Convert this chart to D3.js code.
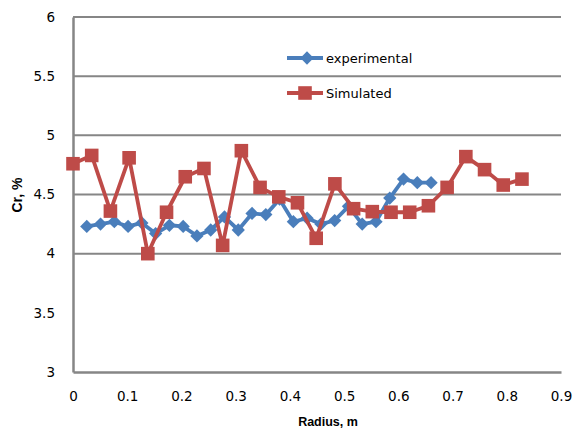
<!DOCTYPE html>
<html><head><meta charset="utf-8">
<script src="https://cdn.jsdelivr.net/npm/d3@7"></script>
<style>
html,body{margin:0;padding:0;background:#fff;}
svg{display:block;}
</style></head>
<body>
<svg id="chart" width="574" height="432"></svg>
<script>
// ---- data ----
const expX = [0.0254,0.0508,0.0762,0.1016,0.127,0.1524,0.1778,0.2032,0.2286,0.254,0.2794,0.3048,0.3302,0.3556,0.381,0.4064,0.4318,0.4572,0.4826,0.508,0.5334,0.5588,0.5842,0.6096,0.635,0.6604];
const expY = [4.23,4.25,4.27,4.23,4.26,4.17,4.24,4.23,4.15,4.20,4.31,4.20,4.34,4.33,4.46,4.27,4.30,4.25,4.28,4.40,4.25,4.27,4.47,4.63,4.60,4.60];
const simX = [0,0.0345,0.069,0.1035,0.138,0.1725,0.207,0.2415,0.276,0.3105,0.345,0.3795,0.414,0.4485,0.483,0.5175,0.552,0.5865,0.621,0.6555,0.69,0.7245,0.759,0.7935,0.828];
const simY = [4.76,4.83,4.36,4.81,4.00,4.35,4.65,4.72,4.07,4.87,4.56,4.48,4.43,4.13,4.59,4.38,4.355,4.35,4.35,4.405,4.56,4.82,4.71,4.58,4.63];
const xTicks = [0,0.1,0.2,0.3,0.4,0.5,0.6,0.7,0.8,0.9];
const yTicks = [3,3.5,4,4.5,5,5.5,6];
const gridTicks = [4,4.5,5,5.5,6];
const seriesNames = ["experimental","Simulated"];
const colors = ["#4A7EBB","#BE4B48"];

// ---- layout ----
const svg = d3.select("#chart");
const L = 73, R = 561, T = 17, B = 372;
const x = d3.scaleLinear().domain([0,0.9]).range([L,R]);
const y = d3.scaleLinear().domain([3,6]).range([B,T]);
const font = "DejaVu Sans, sans-serif";
const axisCol = "#868686";

// gridlines
svg.append("g").selectAll("line").data(gridTicks).join("line")
  .attr("x1",L).attr("x2",R).attr("y1",d=>y(d)).attr("y2",d=>y(d))
  .attr("stroke",axisCol).attr("stroke-width",2);

// axes
const yAxis = svg.append("g").attr("transform",`translate(${L},0)`)
  .call(d3.axisLeft(y).tickValues(yTicks).tickSize(0).tickPadding(18).tickFormat(d3.format("")));
const xAxis = svg.append("g").attr("transform",`translate(0,${B})`)
  .call(d3.axisBottom(x).tickValues(xTicks).tickSize(0).tickPadding(19).tickFormat(d3.format("")));
[yAxis,xAxis].forEach(g=>{
  g.select(".domain").attr("stroke",axisCol).attr("stroke-width",2.5);
  g.selectAll("text").attr("font-family",font).attr("font-size","13.5px").attr("fill","#000");
});

// series
const diamond = d3.symbol().type(d3.symbolSquare).size(88);
const square = d3.symbol().type(d3.symbolSquare).size(185);
const line = d3.line().x(d=>x(d[0])).y(d=>y(d[1]));
const expPts = expX.map((v,i)=>[v,expY[i]]);
const simPts = simX.map((v,i)=>[v,simY[i]]);

svg.append("path").datum(expPts).attr("d",line).attr("fill","none")
  .attr("stroke",colors[0]).attr("stroke-width",3.8).attr("stroke-linejoin","round");
svg.append("g").selectAll("path").data(expPts).join("path")
  .attr("d",diamond).attr("transform",d=>`translate(${x(d[0])},${y(d[1])}) rotate(45)`)
  .attr("fill",colors[0]);

svg.append("path").datum(simPts).attr("d",line).attr("fill","none")
  .attr("stroke",colors[1]).attr("stroke-width",3.8).attr("stroke-linejoin","round");
svg.append("g").selectAll("path").data(simPts).join("path")
  .attr("d",square).attr("transform",d=>`translate(${x(d[0])},${y(d[1])})`)
  .attr("fill",colors[1]);

// legend
const lg = svg.append("g");
const legY = [58,93];
seriesNames.forEach((name,i)=>{
  lg.append("line").attr("x1",287).attr("x2",323).attr("y1",legY[i]).attr("y2",legY[i])
    .attr("stroke",colors[i]).attr("stroke-width",3.8);
  lg.append("path").attr("d",i===0?diamond:square)
    .attr("transform",`translate(${i===0?307:305},${legY[i]})${i===0?" rotate(45)":""}`)
    .attr("fill",colors[i]);
  lg.append("text").attr("x",326).attr("y",legY[i]).attr("dy","0.35em")
    .attr("font-family",font).attr("font-size","13px").attr("fill","#000").text(name);
});

// axis titles
svg.append("text").attr("x",328).attr("y",422).attr("dy","0.35em").attr("text-anchor","middle")
  .attr("font-family","Liberation Sans, Arial, sans-serif").attr("font-weight","bold").attr("font-size","12.5px")
  .text("Radius, m");
svg.append("text").attr("transform","translate(17,195) rotate(-90)").attr("dy","0.35em").attr("text-anchor","middle")
  .attr("font-family","Liberation Sans, Arial, sans-serif").attr("font-weight","bold").attr("font-size","14px")
  .text("Cr, %");
</script>
</body></html>
